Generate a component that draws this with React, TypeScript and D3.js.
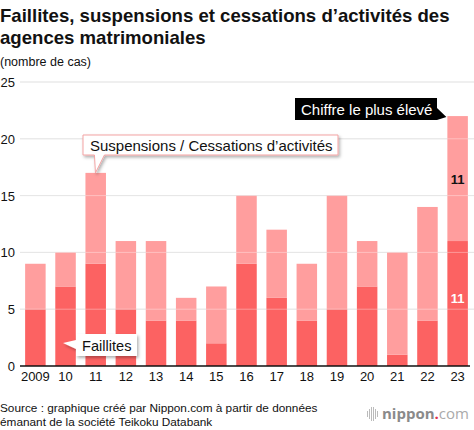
import React from "react";
import * as d3 from "d3";

const years = ["2009", "10", "11", "12", "13", "14", "15", "16", "17", "18", "19", "20", "21", "22", "23"];
const faillites = [5, 7, 9, 5, 4, 4, 2, 9, 6, 4, 5, 7, 1, 4, 11];
const suspensions = [4, 3, 8, 6, 7, 2, 5, 6, 6, 5, 10, 4, 9, 10, 11];
const yTicks = [0, 5, 10, 15, 20, 25];

const W = 474;
const H = 430;
const FONT = "'Liberation Sans', Arial, Helvetica, sans-serif";
const DARK = "#fc6262";
const LIGHT = "#ff9e9e";

export default function App() {
  const y = d3.scaleLinear().domain([0, 25]).range([366, 82]);
  const x = d3.scaleBand().domain(years).range([20, 473]).paddingInner(0.32).paddingOuter(0.17);
  const bw = x.bandwidth();
  const stacked = years.map((yr, i) => ({ yr, f: faillites[i], s: suspensions[i] }));
  const last = stacked[stacked.length - 1];
  const lastX = x(last.yr)!;
  const b11 = x("11")!;

  return (
    <svg width={W} height={H} style={{ position: "absolute", left: 0, top: 0, background: "#fff" }} fontFamily={FONT}>
      <defs>
        <filter id="sh" x="-10%" y="-30%" width="130%" height="180%">
          <feDropShadow dx="1.5" dy="2" stdDeviation="1.5" floodColor="#000" floodOpacity="0.3" />
        </filter>
      </defs>
      <text x={0} y={22} fontSize={18.6} fontWeight="bold" fill="#111">Faillites, suspensions et cessations d’activités des</text>
      <text x={0} y={44} fontSize={18.6} fontWeight="bold" fill="#111">agences matrimoniales</text>
      <text x={0} y={66} fontSize={12.5} fill="#111">(nombre de cas)</text>

      {yTicks.map((t) => (
        <g key={t}>
          {t > 0 && <line x1={20} x2={W} y1={y(t)} y2={y(t)} stroke="#d9d9d9" strokeWidth={1} />}
          <text x={15} y={y(t) + 5} fontSize={13} textAnchor="end" fill="#111">{t}</text>
        </g>
      ))}

      {stacked.map((d) => (
        <g key={d.yr}>
          <rect x={x(d.yr)} y={y(d.f)} width={bw} height={y(0) - y(d.f)} fill={DARK} />
          <rect x={x(d.yr)} y={y(d.f + d.s)} width={bw} height={y(d.f) - y(d.f + d.s)} fill={LIGHT} />
          <text x={x(d.yr)! + bw / 2} y={381} fontSize={13} textAnchor="middle" fill="#111">{d.yr}</text>
        </g>
      ))}

      {yTicks.filter((t) => t > 0).map((t) => (
        <line key={"o" + t} x1={20} x2={W} y1={y(t)} y2={y(t)} stroke="#ffffff" strokeOpacity={0.35} strokeWidth={1} />
      ))}

      <line x1={20} x2={470} y1={y(0)} y2={y(0)} stroke="#111" strokeWidth={1.5} />

      <text x={lastX + bw / 2} y={y(last.f + last.s / 2) + 5} fontSize={13} fontWeight="bold" textAnchor="middle" fill="#111">{last.s}</text>
      <text x={lastX + bw / 2} y={y(last.f / 2) - 1} fontSize={13} fontWeight="bold" textAnchor="middle" fill="#fff">{last.f}</text>

      {/* Suspensions label */}
      <g filter="url(#sh)">
        <path
          d={`M83,135 H338 V155 H${b11 + 19} L${b11 + 10},${y(17)} L${b11 + 9},155 H83 Z`}
          fill="#fff"
          stroke="#f3a3a3"
          strokeWidth={1}
        />
      </g>
      <text x={90} y={151} fontSize={15} fill="#111">Suspensions / Cessations d’activités</text>

      {/* Faillites label */}
      <g filter="url(#sh)">
        <path d="M76,334 H137 V356 H76 V349 L63,343 L76,340 Z" fill="#fff" />
      </g>
      <text x={82} y={350.5} fontSize={14.6} fill="#111">Faillites</text>

      {/* highest label */}
      <path d={`M295,98 H437 V108 L${lastX - 1},${y(22) + 1} L437,120 H295 Z`} fill="#000" />
      <text x={301} y={114.5} fontSize={15} fill="#fff">Chiffre le plus élevé</text>

      <text x={0} y={412} fontSize={11.8} fill="#111">Source : graphique créé par Nippon.com à partir de données</text>
      <text x={0} y={426} fontSize={11.8} fill="#111">émanant de la société Teikoku Databank</text>

      <g fill="#bbb">
        {[3, 5, 7, 7, 5, 3].map((h, i) => (
          <rect key={i} x={367 + i * 2} y={414 - h} width={1} height={h * 2} />
        ))}
      </g>
      <text x={382} y={419} fontSize={15} fill="#999" fontFamily="'Open Sans', 'Noto Sans', sans-serif">
        <tspan fontWeight="bold" fill="#8a8a8a">nippon</tspan>
        <tspan fill="#e0304a" fontWeight="bold">.</tspan>
        <tspan fill="#aaa">com</tspan>
      </text>
    </svg>
  );
}
